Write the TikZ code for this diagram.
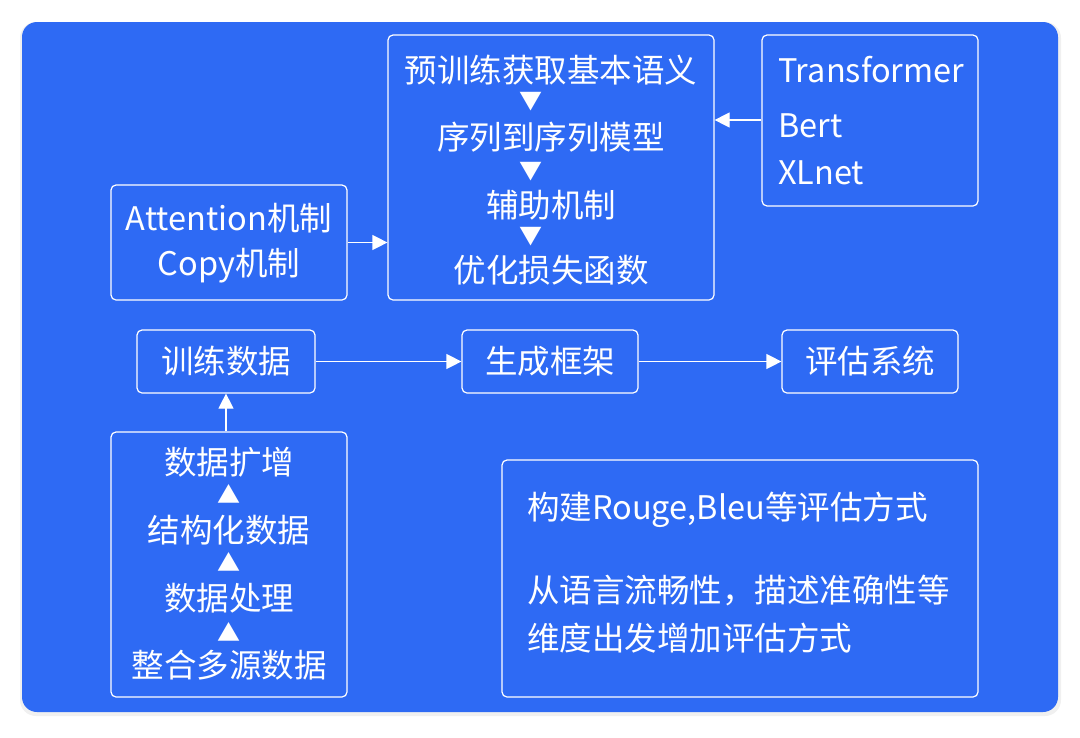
\documentclass[tikz,border=0pt]{standalone}
\usepackage{fontspec}
\setmainfont{Noto Sans CJK SC}
\usetikzlibrary{positioning,arrows.meta}
\definecolor{panelblue}{RGB}{46,106,244}
\begin{document}
\begin{tikzpicture}[
        x=1pt, y=-1pt,
        box/.style={
            rectangle,
            draw=white,
            line width=1.2pt,
            rounded corners=5pt,
            text=white,
            inner sep=0pt,
            align=center
        },
        txt/.style={
            text=white,
            inner sep=0pt,
            font=\fontsize{32.5}{36}\selectfont
        },
        tri/.style={
            text=white,
            inner sep=0pt,
            font=\fontsize{23}{26}\selectfont
        },
        arrow/.style={
            -{Triangle[width=15pt,length=15pt]},
            draw=white,
            line width=1.2pt
        }
    ]
    \useasboundingbox (0,0) rectangle (1080,737);
    % Panel
    \fill[gray!12, rounded corners=16pt] (20,22) rectangle (1061,716);
    \fill[panelblue, rounded corners=15pt] (22,22) rectangle (1058,712);
    % Boxes
    \node[box, minimum width=326pt, minimum height=265pt] (pipe) at (551,167.5) {};
    \node[box, minimum width=216pt, minimum height=171pt] (models) at (870,120.5) {};
    \node[box, minimum width=236pt, minimum height=115pt] (attn) at (229,242.5) {};
    \node[box, minimum width=178pt, minimum height=63pt, font=\fontsize{32.5}{36}\selectfont] (train) at (226,361.5) {训练数据};
    \node[box, minimum width=176pt, minimum height=63pt, font=\fontsize{32.5}{36}\selectfont] (gen) at (550,361.5) {生成框架};
    \node[box, minimum width=176pt, minimum height=63pt, font=\fontsize{32.5}{36}\selectfont] (eval) at (870,361.5) {评估系统};
    \node[box, minimum width=236pt, minimum height=265pt] (data) at (229,564.5) {};
    \node[box, minimum width=476pt, minimum height=237pt] (metric) at (740,578.5) {};
    % Pipeline steps
    \node[txt] (p1) at (551,70) {预训练获取基本语义};
    \node[tri] (t1) at (531,102) {▼};
    \node[txt] (p2) at (551,137) {序列到序列模型};
    \node[tri] (t2) at (531,172) {▼};
    \node[txt] (p3) at (551,205) {辅助机制};
    \node[tri] (t3) at (531,237) {▼};
    \node[txt] (p4) at (551,270) {优化损失函数};
    % Models
    \node[txt, anchor=west] (m1) at (778,70) {Transformer};
    \node[txt, anchor=west] (m2) at (778,126) {Bert};
    \node[txt, anchor=west] (m3) at (778,173) {XLnet};
    % Attention
    \node[txt] (a1) at (229,218) {Attention机制};
    \node[txt] (a2) at (229,266) {Copy机制};
    % Data steps
    \node[txt] (d1) at (229,462) {数据扩增};
    \node[tri] (u1) at (229,494) {▲};
    \node[txt] (d2) at (229,530) {结构化数据};
    \node[tri] (u2) at (229,562) {▲};
    \node[txt] (d3) at (229,598) {数据处理};
    \node[tri] (u3) at (229,632) {▲};
    \node[txt] (d4) at (229,665) {整合多源数据};
    % Metrics
    \node[txt, anchor=west] (e1) at (527,510) {构建Rouge,Bleu等评估方式};
    \node[txt, anchor=west] (e2) at (527,590) {从语言流畅性，描述准确性等};
    \node[txt, anchor=west] (e3) at (527,638) {维度出发增加评估方式};
    % Connections
    \draw[arrow] (models.west |- 0,120) -- (pipe.east |- 0,120);
    \draw[arrow] (attn.east) -- (attn.east -| pipe.west);
    \draw[arrow] (train) -- (gen);
    \draw[arrow] (gen) -- (eval);
    \draw[arrow] (data.north -| train.south) -- (train.south);
\end{tikzpicture}
\end{document}
